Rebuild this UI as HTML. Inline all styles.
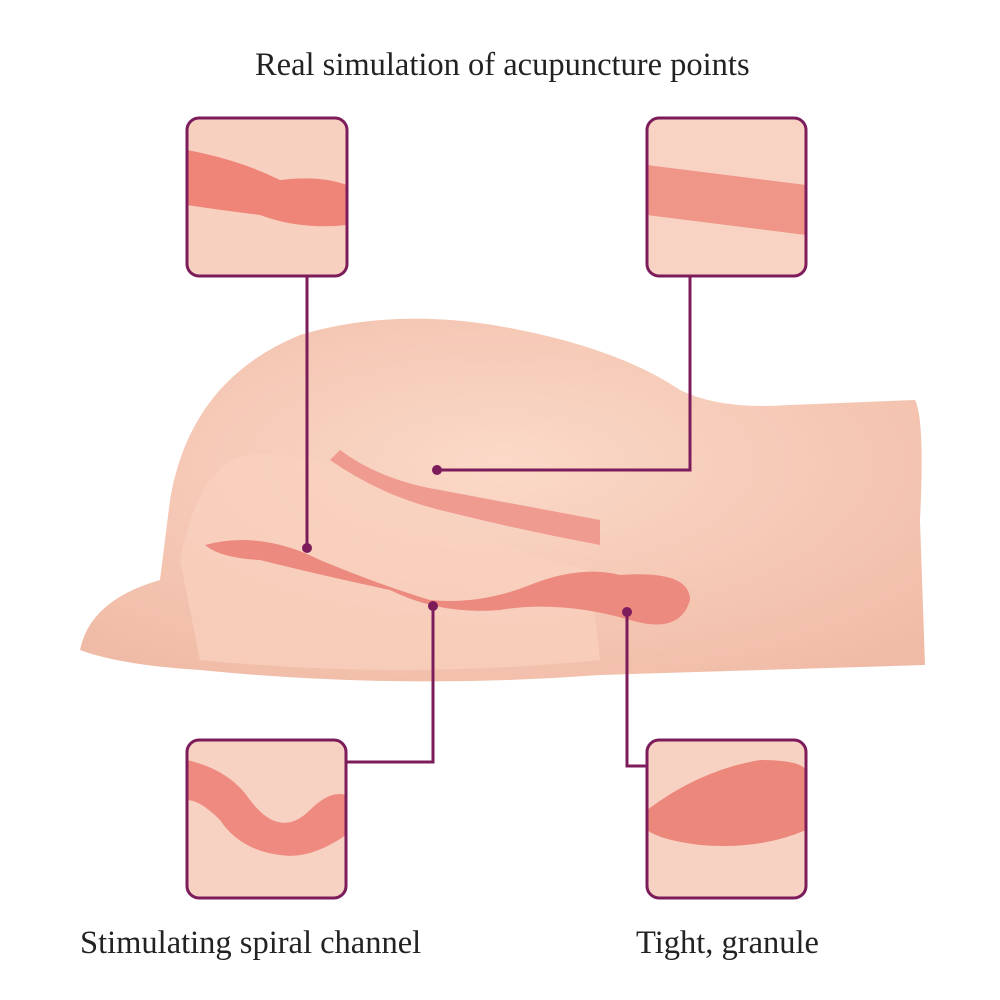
<!DOCTYPE html>
<html><head><meta charset="utf-8"><style>
html,body{margin:0;padding:0;background:#fff;}
body{width:1000px;height:1000px;position:relative;overflow:hidden;font-family:"Liberation Serif",serif;color:#222;}
.t{position:absolute;white-space:nowrap;font-size:32.5px;}
</style></head><body>
<svg width="1000" height="1000" style="position:absolute;left:0;top:0">
<defs>
<radialGradient id="sk" cx="50%" cy="40%" r="70%"><stop offset="0" stop-color="#fbd9c8"/><stop offset="1" stop-color="#f0bba6"/></radialGradient>
<clipPath id="c1"><rect x="187" y="118" width="160" height="158" rx="12"/></clipPath>
<clipPath id="c2"><rect x="647" y="118" width="159" height="158" rx="12"/></clipPath>
<clipPath id="c3"><rect x="187" y="740" width="159" height="158" rx="12"/></clipPath>
<clipPath id="c4"><rect x="647" y="740" width="159" height="158" rx="12"/></clipPath>
</defs>
<path d="M80,650 Q90,600 160,580 L170,500 Q190,380 300,335 Q400,305 520,330 Q620,350 680,390 Q720,410 790,405 L915,400 Q925,420 920,520 L925,665 L600,675 Q400,690 200,670 Q120,665 80,650 Z" fill="url(#sk)"/>
<path d="M180,560 Q200,460 250,455 Q330,450 420,500 Q520,560 590,570 L600,660 Q400,680 200,660 Z" fill="#f9d2bf" opacity="0.7"/>
<path d="M205,545 Q260,530 320,560 Q380,585 430,600 Q480,605 530,585 Q580,565 620,575 Q690,570 690,600 Q680,635 630,620 Q560,600 500,610 Q440,615 390,590 Q320,575 260,560 Q220,558 205,545 Z" fill="#ec8a80"/>
<path d="M340,450 Q380,480 440,490 L600,520 L600,545 Q520,530 440,510 Q380,495 330,460 Z" fill="#ef9b90"/>
<g clip-path="url(#c1)"><rect x="187" y="118" width="160" height="158" fill="#f7d0c0"/><path d="M187,150 Q240,160 280,180 Q320,175 347,185 L347,225 Q300,230 260,215 Q220,210 187,205Z" fill="#ee8578"/></g>
<g clip-path="url(#c2)"><rect x="647" y="118" width="159" height="158" fill="#f8d3c4"/><path d="M647,165 L806,185 L806,235 L647,215Z" fill="#ef9689"/></g>
<g clip-path="url(#c3)"><rect x="187" y="740" width="159" height="158" fill="#f7d2c2"/><path d="M187,760 Q230,770 250,800 Q280,840 310,810 Q330,790 346,795 L346,835 Q310,860 280,855 Q240,850 220,820 Q200,800 187,800Z" fill="#ee8a7f"/></g>
<g clip-path="url(#c4)"><rect x="647" y="740" width="159" height="158" fill="#f7d2c2"/><path d="M647,810 Q700,770 760,760 Q800,760 806,770 L806,830 Q760,850 700,845 Q660,840 647,830Z" fill="#ec877c"/></g>
<g fill="none" stroke="#7d1c5b" stroke-width="3">
<rect x="187" y="118" width="160" height="158" rx="12"/>
<rect x="647" y="118" width="159" height="158" rx="12"/>
<rect x="187" y="740" width="159" height="158" rx="12"/>
<rect x="647" y="740" width="159" height="158" rx="12"/>
<polyline points="307,276 307,548"/>
<polyline points="690,276 690,470 437,470"/>
<polyline points="433,606 433,762 346,762"/>
<polyline points="627,612 627,766 647,766"/>
</g>
<g fill="#7d1c5b"><circle cx="307" cy="548" r="5"/><circle cx="437" cy="470" r="5"/><circle cx="433" cy="606" r="5"/><circle cx="627" cy="612" r="5"/></g>
</svg>
<div class="t" style="left:255px;top:47px;">Real simulation of acupuncture points</div>
<div class="t" style="left:80px;top:925px;">Stimulating spiral channel</div>
<div class="t" style="left:636px;top:925px;">Tight, granule</div>
</body></html>
